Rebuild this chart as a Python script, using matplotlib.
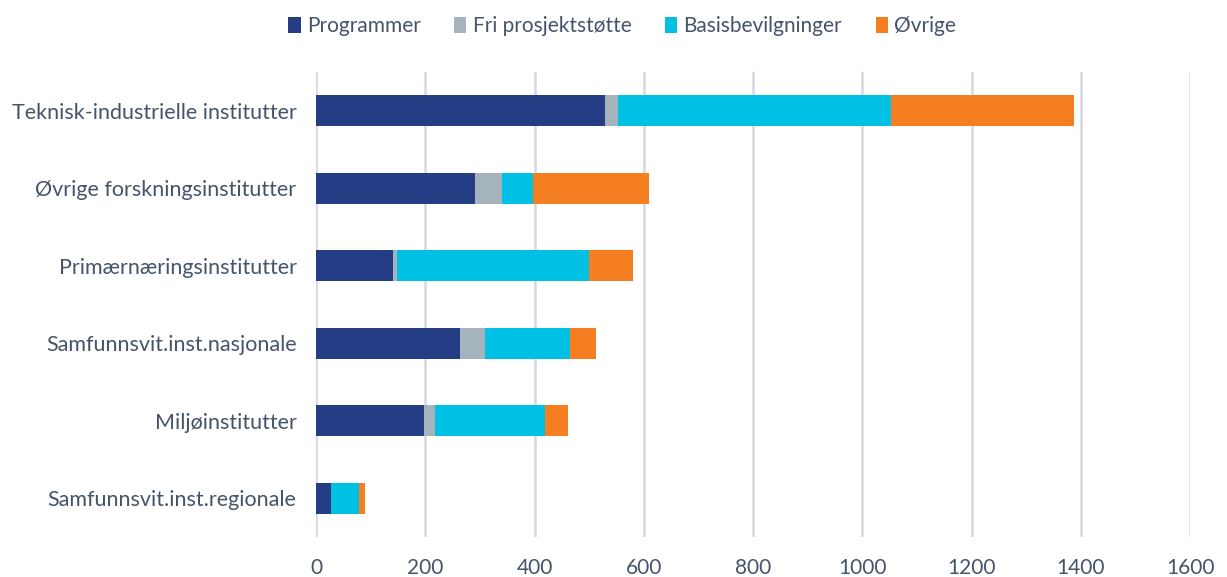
import matplotlib
matplotlib.use("Agg")
import matplotlib.pyplot as plt
import numpy as np

categories = ["Teknisk-industrielle institutter", "Øvrige forskningsinstitutter",
              "Primærnæringsinstitutter", "Samfunnsvit.inst.nasjonale",
              "Miljøinstitutter", "Samfunnsvit.inst.regionale"]
series_names = ["Programmer", "Fri prosjektstøtte", "Basisbevilgninger", "Øvrige"]
programmer = [529, 291, 141, 263, 197, 28]
fri = [23, 50, 8, 46, 21, 0]
basis = [500, 57, 350, 156, 202, 51]
ovrige = [336, 212, 81, 48, 41, 10]
colors = ["#253d85", "#a5b4bc", "#00c0e3", "#f47e20"]
xticks = [0, 200, 400, 600, 800, 1000, 1200, 1400, 1600]

plt.rcParams['font.family'] = ['Lato', 'DejaVu Sans']
text_color = "#44546a"

fig = plt.figure(figsize=(12.27, 5.77), dpi=100)
ax = fig.add_axes([0.2575, 0.0693, 0.7125, 0.806])

y = np.arange(len(categories))
left = np.zeros(len(categories))
for name, vals, c in zip(series_names, [programmer, fri, basis, ovrige], colors):
    ax.barh(y, vals, left=left, height=0.4, color=c, label=name, zorder=3)
    left += np.array(vals)

ax.set_ylim(len(categories) - 0.5, -0.5)
ax.set_xlim(0, 1600)
ax.set_xticks(xticks)
ax.set_xticklabels([str(t) for t in xticks])
ax.set_yticks(y)
ax.set_yticklabels(categories)
ax.tick_params(axis='y', length=0, labelsize=15.5, colors=text_color, pad=14)
ax.tick_params(axis='x', length=0, labelsize=15, colors=text_color, pad=15)
for s in ax.spines.values():
    s.set_visible(False)
ax.grid(axis='x', color="#d5d8e2", linewidth=1.8, zorder=0)

leg = fig.legend(loc='upper center', bbox_to_anchor=(0.507, 1.004), ncol=4, frameon=False,
                 fontsize=15, handlelength=0.6, handleheight=0.8, handletextpad=0.3,
                 columnspacing=1.6)
for t in leg.get_texts():
    t.set_color(text_color)

fig.savefig("out.png", dpi=100)
